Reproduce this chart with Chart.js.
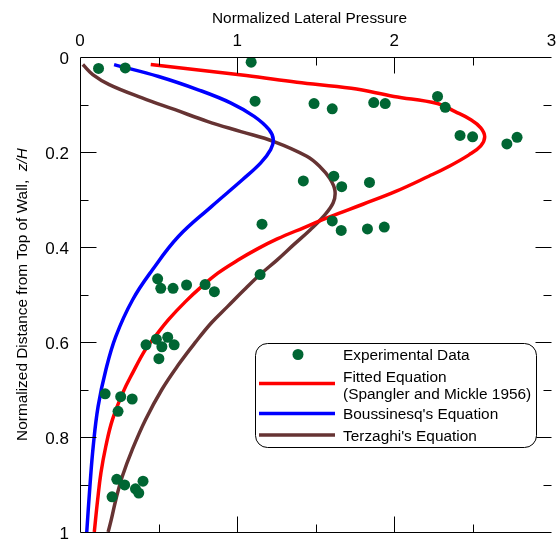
<!DOCTYPE html>
<html>
<head>
<meta charset="utf-8">
<script src="https://cdn.jsdelivr.net/npm/chart.js@4"></script>
<style>
  html, body { margin: 0; padding: 0; background: #fff; }
</style>
</head>
<body>
<canvas id="chart" width="557" height="540"></canvas>
<script>
const expX = [0.118, 0.288, 1.089, 1.114, 1.489, 1.605, 1.869, 1.942, 2.275, 2.324,
              2.418, 2.498, 2.716, 2.781, 1.421, 1.615, 1.665, 1.842, 1.158, 1.605,
              1.662, 1.829, 1.936, 1.146, 0.494, 0.514, 0.592, 0.678, 0.796, 0.855,
              0.420, 0.486, 0.521, 0.558, 0.599, 0.502, 0.160, 0.259, 0.332, 0.242,
              0.234, 0.284, 0.204, 0.353, 0.401, 0.374];
const expY = [0.024, 0.023, 0.011, 0.093, 0.098, 0.109, 0.096, 0.098, 0.083, 0.106,
              0.165, 0.168, 0.183, 0.169, 0.261, 0.251, 0.273, 0.264, 0.352, 0.345,
              0.365, 0.362, 0.358, 0.458, 0.467, 0.487, 0.487, 0.480, 0.479, 0.494,
              0.606, 0.594, 0.610, 0.590, 0.606, 0.635, 0.709, 0.715, 0.720, 0.746,
              0.889, 0.901, 0.926, 0.909, 0.893, 0.918];

// fitted equation (Spangler and Mickle 1956)
const fitX = [0.450, 1.058, 1.380, 1.726, 1.997, 2.274, 2.387, 2.487, 2.550, 2.575,
              2.550, 2.475, 2.343, 2.219, 2.009, 1.800, 1.593, 1.426, 1.255, 1.129,
              1.003, 0.877, 0.775, 0.671, 0.563, 0.479, 0.416, 0.335, 0.272, 0.206,
              0.164, 0.133, 0.112, 0.091];
const fitY = [0.016, 0.039, 0.053, 0.066, 0.083, 0.098, 0.115, 0.132, 0.149, 0.168,
              0.187, 0.206, 0.231, 0.251, 0.283, 0.310, 0.336, 0.359, 0.383, 0.404,
              0.428, 0.455, 0.483, 0.515, 0.553, 0.588, 0.616, 0.665, 0.707, 0.764,
              0.820, 0.876, 0.933, 1.000];

// Boussinesq's equation
const bouX = [0.217, 0.500, 0.752, 0.961, 1.108, 1.203, 1.230, 1.213, 1.150, 1.035,
              0.836, 0.626, 0.461, 0.335, 0.228, 0.165, 0.115, 0.084, 0.063, 0.043];
const bouY = [0.016, 0.041, 0.069, 0.097, 0.125, 0.153, 0.174, 0.195, 0.223, 0.258,
              0.315, 0.378, 0.448, 0.511, 0.588, 0.658, 0.736, 0.820, 0.904, 1.000];

// Terzaghi's equation
const terX = [0.018, 0.081, 0.186, 0.395, 0.605, 0.814, 1.024, 1.234, 1.443, 1.530,
              1.590, 1.622, 1.611, 1.548, 1.464, 1.360, 1.255, 1.146, 1.045, 0.940,
              0.835, 0.731, 0.626, 0.521, 0.416, 0.332, 0.269, 0.228, 0.199, 0.179];
const terY = [0.016, 0.037, 0.058, 0.086, 0.111, 0.136, 0.157, 0.178, 0.209, 0.232,
              0.256, 0.281, 0.307, 0.336, 0.364, 0.395, 0.427, 0.458, 0.490, 0.525,
              0.560, 0.602, 0.648, 0.700, 0.764, 0.827, 0.883, 0.932, 0.974, 1.000];

const xTicks = [0, 1, 2, 3];
const yTicks = [0, 0.2, 0.4, 0.6, 0.8, 1];
const yTickLabels = ['0', '0.2', '0.4', '0.6', '0.8', '1'];

const legendNames = [['Experimental Data'], ['Fitted Equation', '(Spangler and Mickle 1956)'],
                     ["Boussinesq's Equation"], ["Terzaghi's Equation"]];

const FONT = '"Liberation Sans", Arial, sans-serif';

function pts(xs, ys) {
    return xs.map((x, i) => ({ x: x, y: ys[i] }));
}

// frame, inward ticks, tick labels and axis titles
const axesPlugin = {
    id: 'axesPlugin',
    afterDatasetsDraw(chart) {
        const ctx = chart.ctx;
        const xs = chart.scales.x, ys = chart.scales.y;
        const a = chart.chartArea;
        const L = Math.round(a.left) + 0.5, T = Math.round(a.top) + 0.5;
        const B = Math.round(a.bottom) + 0.5, R = a.right;
        ctx.save();
        ctx.strokeStyle = '#000';
        ctx.lineWidth = 1;
        ctx.beginPath();
        ctx.moveTo(R, T); ctx.lineTo(L, T); ctx.lineTo(L, B); ctx.lineTo(R, B);
        ctx.stroke();

        ctx.beginPath();
        for (let v = 0.5; v < 3; v += 0.5) {
            const px = Math.round(xs.getPixelForValue(v)) + 0.5;
            const len = (v % 1 === 0) ? 16 : 8;
            ctx.moveTo(px, T); ctx.lineTo(px, T + len);
            ctx.moveTo(px, B); ctx.lineTo(px, B - len);
        }
        for (let k = 1; k < 10; k++) {
            const py = Math.round(ys.getPixelForValue(k / 10)) + 0.5;
            const len = (k % 2 === 0) ? 16 : 8;
            ctx.moveTo(L, py); ctx.lineTo(L + len, py);
            ctx.moveTo(R, py); ctx.lineTo(R - len, py);
        }
        ctx.stroke();

        ctx.fillStyle = '#000';
        ctx.font = '17px ' + FONT;
        ctx.textBaseline = 'alphabetic';
        ctx.textAlign = 'center';
        xTicks.forEach(v => ctx.fillText(String(v), xs.getPixelForValue(v), 46));
        ctx.textAlign = 'right';
        yTicks.forEach((v, i) => ctx.fillText(yTickLabels[i], 69, ys.getPixelForValue(v) + 7));

        ctx.font = '15.4px ' + FONT;
        ctx.textAlign = 'left';
        ctx.fillText('Normalized Lateral Pressure', 212, 23);

        // rotated y title with italic z/H
        const t1 = 'Normalized Distance from Top of Wall,  ';
        const t2 = 'z/H';
        ctx.font = '15.4px ' + FONT;
        const w1 = ctx.measureText(t1).width;
        ctx.font = 'italic 15.4px ' + FONT;
        const w2 = ctx.measureText(t2).width;
        ctx.translate(26.5, (a.top + a.bottom) / 2);
        ctx.rotate(-Math.PI / 2);
        const start = -(w1 + w2) / 2;
        ctx.font = '15.4px ' + FONT;
        ctx.fillText(t1, start, 0);
        ctx.font = 'italic 15.4px ' + FONT;
        ctx.fillText(t2, start + w1, 0);
        ctx.restore();
    }
};

// boxed legend with the two-line entry
const legendPlugin = {
    id: 'legendPlugin',
    afterDraw(chart) {
        const ctx = chart.ctx;
        const ds = chart.data.datasets;
        const bx = 255.5, by = 343.5, bw = 281, bh = 104, r = 12;
        ctx.save();
        ctx.beginPath();
        ctx.roundRect(bx, by, bw, bh, r);
        ctx.fillStyle = '#fff';
        ctx.fill();
        ctx.strokeStyle = '#000';
        ctx.lineWidth = 1;
        ctx.stroke();

        ctx.fillStyle = ds[0].backgroundColor;
        ctx.beginPath();
        ctx.arc(298, 354.5, 5.5, 0, Math.PI * 2);
        ctx.fill();

        const lineRows = [383.5, 413.5, 435];
        for (let i = 1; i <= 3; i++) {
            ctx.strokeStyle = ds[i].borderColor;
            ctx.lineWidth = 3.5;
            ctx.beginPath();
            ctx.moveTo(259, lineRows[i - 1]);
            ctx.lineTo(335, lineRows[i - 1]);
            ctx.stroke();
        }

        ctx.fillStyle = '#000';
        ctx.font = '15.4px ' + FONT;
        ctx.textAlign = 'left';
        ctx.textBaseline = 'alphabetic';
        const textRows = [[354.5], [376, 393.5], [413.5], [435]];
        legendNames.forEach((lines, i) => {
            lines.forEach((s, j) => ctx.fillText(s, 343, textRows[i][j] + 5.5));
        });
        ctx.restore();
    }
};

new Chart(document.getElementById('chart'), {
    type: 'scatter',
    data: {
        datasets: [
            {
                label: 'Experimental Data',
                data: pts(expX, expY),
                backgroundColor: '#006633',
                borderColor: '#006633',
                pointRadius: 5.5,
                pointBorderWidth: 0
            },
            {
                label: 'Fitted Equation',
                data: pts(fitX, fitY),
                showLine: true,
                borderColor: '#ff0000',
                borderWidth: 3.5,
                pointRadius: 0,
                tension: 0.4
            },
            {
                label: "Boussinesq's Equation",
                data: pts(bouX, bouY),
                showLine: true,
                borderColor: '#0000ff',
                borderWidth: 3.5,
                pointRadius: 0,
                tension: 0.4
            },
            {
                label: "Terzaghi's Equation",
                data: pts(terX, terY),
                showLine: true,
                borderColor: '#663333',
                borderWidth: 3.5,
                pointRadius: 0,
                tension: 0.4
            }
        ]
    },
    options: {
        responsive: false,
        animation: false,
        layout: { padding: { left: 80, top: 57, right: 0, bottom: 8 } },
        plugins: {
            legend: { display: false },
            tooltip: { enabled: false }
        },
        scales: {
            x: { type: 'linear', min: 0, max: 3, display: false },
            y: { type: 'linear', min: 0, max: 1, reverse: true, display: false }
        }
    },
    plugins: [axesPlugin, legendPlugin]
});
</script>
</body>
</html>
